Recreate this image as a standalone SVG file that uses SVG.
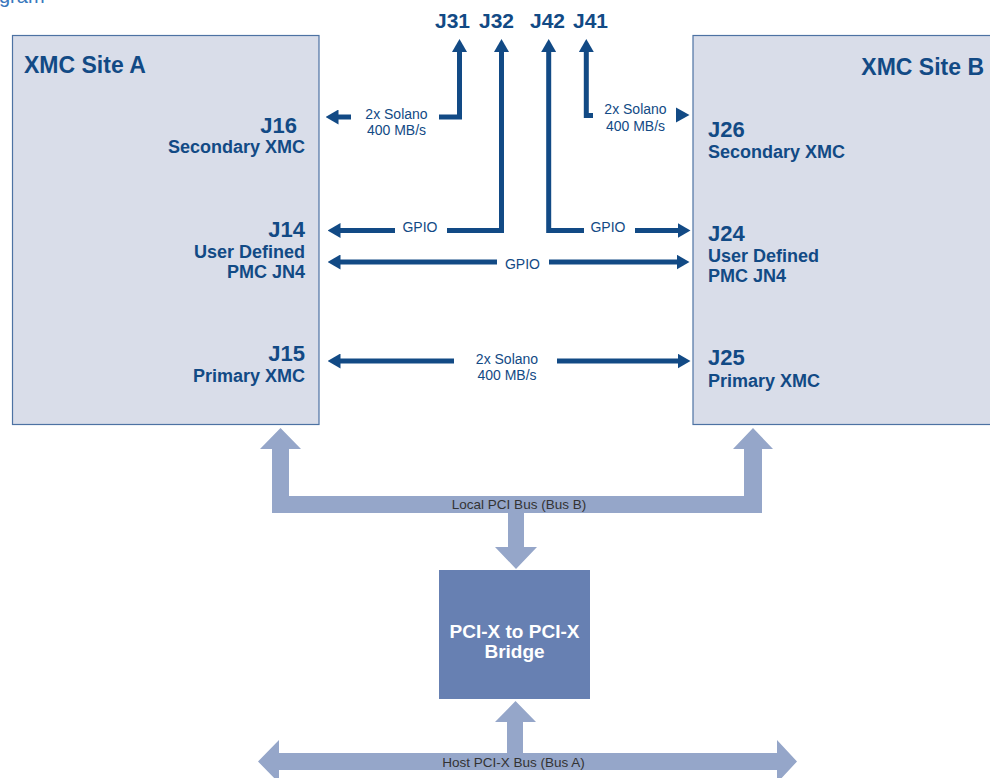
<svg xmlns="http://www.w3.org/2000/svg" width="990" height="778" viewBox="0 0 990 778">
<style>
.site{fill:#d9dde9;stroke:#4d72a3;stroke-width:1.2}
.t{font-family:"Liberation Sans",Arial,sans-serif;fill:#124a85}
.hd{font-size:23px;font-weight:bold}
.j{font-size:22px;font-weight:bold}
.sub{font-size:18px;font-weight:bold}
.top{font-size:21px;font-weight:bold}
.lbl{font-size:14px;text-anchor:middle}
.bus{fill:#95a6c9}
.buslbl{font-family:"Liberation Sans",Arial,sans-serif;font-size:13.5px;fill:#333333;text-anchor:middle}
.ln{fill:none;stroke:#124a85;stroke-width:5}
.br{fill:#6780b2}
.brt{font-family:"Liberation Sans",Arial,sans-serif;font-size:19px;font-weight:bold;fill:#ffffff;text-anchor:middle}
</style>
<defs>
<marker id="ah" viewBox="0 0 13 15" refX="0.5" refY="7.5" markerWidth="13" markerHeight="15" markerUnits="userSpaceOnUse" orient="auto-start-reverse">
<path d="M0,0 L13,7.5 L0,15 z" fill="#124a85"/>
</marker>
</defs>
<text x="-1" y="3" style="font-family:'Liberation Sans',Arial,sans-serif;font-size:20px;fill:#3a78bd">gram</text>

<g id="siteA">
<rect class="site" x="12.5" y="35.5" width="306.5" height="389"/>
<text class="t hd" x="24" y="73">XMC Site A</text>
<text class="t j" x="297" y="133" text-anchor="end">J16</text>
<text class="t sub" x="305" y="153" text-anchor="end">Secondary XMC</text>
<text class="t j" x="305" y="237" text-anchor="end">J14</text>
<text class="t sub" x="305" y="258" text-anchor="end">User Defined</text>
<text class="t sub" x="305" y="278" text-anchor="end">PMC JN4</text>
<text class="t j" x="305" y="361" text-anchor="end">J15</text>
<text class="t sub" x="305" y="382" text-anchor="end">Primary XMC</text>
</g>

<g id="siteB">
<rect class="site" x="693" y="35.5" width="305" height="389"/>
<text class="t hd" x="984" y="75" text-anchor="end">XMC Site B</text>
<text class="t j" x="708" y="137">J26</text>
<text class="t sub" x="708" y="158">Secondary XMC</text>
<text class="t j" x="708" y="241">J24</text>
<text class="t sub" x="708" y="262">User Defined</text>
<text class="t sub" x="708" y="282">PMC JN4</text>
<text class="t j" x="708" y="365">J25</text>
<text class="t sub" x="708" y="387">Primary XMC</text>
</g>

<g id="headers">
<text class="t top" x="435" y="28">J31</text>
<text class="t top" x="479" y="28">J32</text>
<text class="t top" x="530" y="28">J42</text>
<text class="t top" x="573" y="28">J41</text>
</g>

<g id="bridge">
<rect class="br" x="439" y="570" width="151" height="129"/>
<text class="brt" x="514.5" y="638">PCI-X to PCI-X</text>
<text class="brt" x="514.5" y="658">Bridge</text>
</g>

<g id="connectors">
<path class="ln" d="M351,117 H338" marker-end="url(#ah)"/>
<path class="ln" d="M439,117 H459.5 V51.5" marker-end="url(#ah)"/>
<path class="ln" d="M447,230.5 H501.5 V51.5" marker-end="url(#ah)"/>
<path class="ln" d="M584,230.5 H548.7 V51.5" marker-end="url(#ah)"/>
<path class="ln" d="M593,115.5 H586.3 V51.5" marker-end="url(#ah)"/>
<polygon points="676,107.5 689.5,115 676,122.5" fill="#124a85"/>
<path class="ln" d="M395,230.5 H340" marker-end="url(#ah)"/>
<path class="ln" d="M635,230.5 H678" marker-end="url(#ah)"/>
<path class="ln" d="M497,262 H340" marker-end="url(#ah)"/>
<path class="ln" d="M549,262 H677" marker-end="url(#ah)"/>
<path class="ln" d="M454,361 H340" marker-end="url(#ah)"/>
<path class="ln" d="M557,361 H678" marker-end="url(#ah)"/>

<text class="t lbl" x="396.5" y="119">2x Solano</text>
<text class="t lbl" x="396.5" y="135">400 MB/s</text>
<text class="t lbl" x="635.5" y="114">2x Solano</text>
<text class="t lbl" x="635.5" y="131">400 MB/s</text>
<text class="t lbl" x="420" y="232">GPIO</text>
<text class="t lbl" x="608" y="232">GPIO</text>
<text class="t lbl" x="522.5" y="269">GPIO</text>
<text class="t lbl" x="507" y="364">2x Solano</text>
<text class="t lbl" x="507" y="380">400 MB/s</text>

<polygon class="bus" points="272,449 260,449 280.5,428 301,449 289,449 289,496 744,496 744,449 733,449 753,428 773,449 762,449 762,513 524,513 524,547 537,547 516,569 495,547 508,547 508,513 272,513"/>
<text class="buslbl" x="519" y="509">Local PCI Bus (Bus B)</text>
<polygon class="bus" points="279,753 507,753 507,722 495,722 515.5,701 536,722 523,722 523,753 777,753 777,740 797,761.5 777,783 777,770 279,770 279,783 258,761.5 279,740"/>
<text class="buslbl" x="513.5" y="767">Host PCI-X Bus (Bus A)</text>
</g>
</svg>
